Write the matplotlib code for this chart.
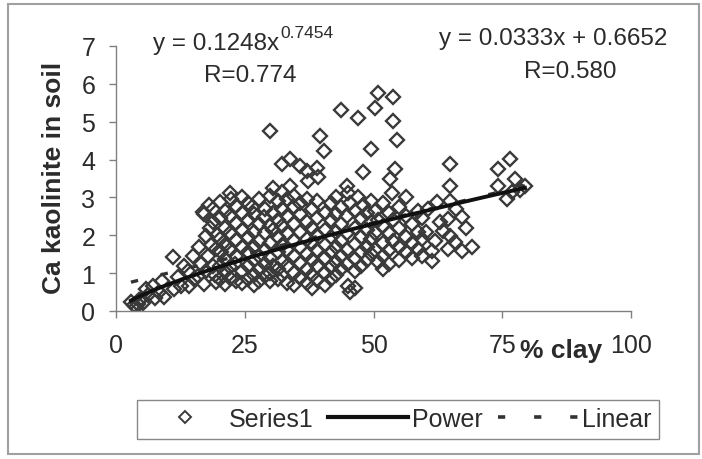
import matplotlib
matplotlib.use('Agg')
import matplotlib.pyplot as plt
from matplotlib.lines import Line2D
from matplotlib.patches import Rectangle
import numpy as np

plt.rcParams['font.family'] = ['Liberation Sans', 'DejaVu Sans']

# ---- data: (% clay, Ca kaolinite in soil) ----
band_00_10 = [(2.9, 0.23), (3.5, 0.15), (3.9, 0.10), (4.2, 0.18), (4.5, 0.30), (4.9, 0.32),
              (5.3, 0.22), (5.8, 0.58), (6.3, 0.42), (7.1, 0.67), (7.6, 0.35), (8.4, 0.49),
              (9.0, 0.80), (9.4, 0.36)]
band_10_20 = [(11.0, 1.42), (11.3, 0.58), (12.0, 0.90), (12.6, 0.65), (13.2, 1.20), (13.9, 1.06),
              (14.2, 0.67), (14.9, 1.46), (15.2, 0.85), (15.9, 0.93), (16.2, 1.68), (16.5, 1.25),
              (17.1, 0.71), (17.1, 2.56), (17.5, 1.99), (17.8, 1.45), (17.4, 1.05), (18.2, 2.20),
              (18.8, 2.34), (18.8, 2.69), (18.5, 1.75), (18.9, 1.20), (19.4, 0.76), (19.4, 1.64),
              (19.6, 2.00), (19.2, 0.95), (16.8, 2.62), (18.0, 2.80)]
band_20_30 = [(20.1, 2.87), (20.1, 2.45), (20.1, 1.90), (20.1, 1.20), (20.1, 0.85), (20.3, 1.55),
              (21.2, 2.65), (21.2, 2.20), (21.2, 1.75), (21.2, 1.38), (21.2, 1.02), (21.2, 0.72),
              (22.1, 3.13), (22.3, 2.95), (22.1, 2.50), (22.1, 2.05), (22.1, 1.60), (22.1, 1.15),
              (22.1, 0.88), (23.3, 2.78), (23.3, 2.32), (23.3, 1.88), (23.3, 1.45), (23.1, 1.25),
              (23.3, 0.78), (24.4, 3.00), (24.4, 2.60), (24.4, 2.15), (24.4, 1.70), (24.4, 1.05),
              (24.4, 0.75), (25.6, 2.85), (25.6, 2.40), (25.6, 1.95), (25.6, 1.55), (25.6, 1.20),
              (25.6, 0.85), (26.7, 2.55), (26.5, 2.75), (26.7, 2.10), (26.7, 1.68), (26.7, 1.35),
              (26.7, 0.95), (26.7, 0.70), (27.8, 2.95), (27.8, 2.30), (27.8, 1.85), (27.8, 1.45),
              (27.8, 1.10), (27.8, 0.80), (28.9, 2.70), (28.7, 2.48), (28.9, 2.05), (28.9, 1.62),
              (28.9, 1.25), (28.9, 0.92), (29.9, 4.76), (29.9, 3.05), (29.9, 2.25), (29.9, 1.80),
              (29.9, 1.40), (29.9, 1.00), (29.9, 0.78)]
band_30_40 = [(30.5, 3.26), (30.5, 2.60), (30.5, 2.15), (30.5, 1.20), (31.4, 2.90), (31.4, 2.40),
              (31.4, 1.95), (31.4, 1.55), (31.4, 1.10), (31.4, 0.85), (32.2, 3.88), (32.2, 3.15),
              (32.2, 2.70), (32.2, 2.25), (32.2, 1.75), (32.2, 1.32), (32.2, 0.95), (33.3, 2.95),
              (33.3, 2.50), (33.3, 2.05), (33.3, 1.60), (33.3, 1.20), (33.3, 0.75), (33.8, 4.01),
              (33.8, 3.31), (34.5, 3.05), (34.5, 2.75), (34.5, 2.30), (34.5, 1.85), (34.5, 1.45),
              (34.5, 1.00), (34.5, 0.68), (35.7, 3.83), (35.7, 2.85), (35.7, 2.55), (35.7, 2.10),
              (35.7, 1.70), (35.7, 1.28), (35.7, 0.88), (37.0, 3.70), (37.3, 3.44), (37.0, 2.95),
              (37.0, 2.35), (37.0, 1.90), (37.0, 1.50), (37.0, 1.10), (37.0, 0.75), (38.1, 2.70),
              (38.1, 2.20), (38.1, 1.80), (38.1, 1.35), (38.1, 0.95), (38.1, 0.60), (39.0, 3.79),
              (39.3, 3.53), (39.0, 2.90), (39.0, 2.45), (39.0, 2.00), (39.0, 1.62), (39.0, 1.20),
              (39.0, 0.82), (39.6, 4.63), (40.3, 4.23)]
band_40_50 = [(40.6, 2.60), (40.6, 2.15), (40.6, 1.75), (40.6, 1.40), (40.6, 1.00), (40.6, 0.70),
              (41.7, 2.85), (41.7, 2.40), (41.7, 1.95), (41.7, 1.55), (41.7, 1.15), (41.7, 0.85),
              (42.8, 3.00), (42.8, 2.55), (42.8, 2.10), (42.8, 1.70), (42.8, 1.30), (42.8, 0.95),
              (43.7, 5.31), (43.7, 2.75), (43.7, 2.30), (43.7, 1.85), (43.7, 1.45), (43.7, 1.10),
              (44.8, 3.31), (45.1, 3.13), (44.8, 2.50), (44.8, 2.05), (44.8, 1.60), (44.8, 1.25),
              (45.1, 0.67), (45.4, 0.49), (45.4, 2.85), (46.4, 0.62), (46.4, 2.65), (46.4, 2.20),
              (46.4, 1.78), (46.4, 1.38), (46.4, 1.05), (47.0, 5.11), (47.0, 3.00), (47.6, 2.45),
              (47.6, 1.95), (47.6, 1.55), (47.6, 1.20), (48.0, 3.66), (48.0, 2.80), (48.8, 2.60),
              (48.8, 2.15), (48.8, 1.70), (48.8, 1.35), (49.6, 4.27), (49.6, 2.90), (49.6, 2.35),
              (49.6, 1.90), (49.6, 1.50)]
band_50_60 = [(50.3, 5.35), (50.3, 2.65), (50.3, 2.05), (50.3, 1.62), (50.9, 5.75), (50.9, 2.40),
              (50.9, 1.30), (51.9, 2.85), (51.9, 2.25), (51.9, 1.80), (51.9, 1.11), (51.9, 1.45),
              (53.0, 2.60), (53.0, 2.05), (53.0, 1.60), (53.0, 1.25), (53.5, 3.13), (53.2, 3.48),
              (53.8, 5.64), (53.8, 5.02), (53.8, 2.40), (53.8, 1.85), (54.2, 3.75), (54.5, 4.51),
              (55.0, 2.75), (55.0, 2.20), (55.0, 1.70), (55.0, 1.35), (56.4, 3.00), (56.4, 2.50),
              (56.4, 1.95), (56.4, 1.55), (57.5, 2.30), (57.5, 1.80), (57.5, 1.40), (58.6, 2.65),
              (58.6, 2.10), (58.6, 1.65), (59.5, 2.45), (59.5, 1.90), (59.5, 1.45)]
band_60_80 = [(60.2, 2.10), (60.5, 2.70), (61.3, 1.59), (61.3, 1.33), (62.0, 1.85), (62.3, 2.87),
              (62.9, 2.34), (63.5, 2.12), (64.5, 2.43), (64.5, 1.64), (64.9, 2.91), (64.9, 1.99),
              (64.9, 3.88), (64.9, 3.31), (65.8, 1.81), (66.0, 2.70), (67.1, 2.47), (67.1, 1.59),
              (68.0, 2.20), (69.1, 1.68), (74.2, 3.75), (74.2, 3.31), (75.9, 2.96), (76.5, 4.01),
              (76.8, 3.15), (77.5, 3.48), (78.5, 3.20), (79.4, 3.31)]

power_coef, power_exp = 0.1248, 0.7454
linear_slope, linear_icpt = 0.0333, 0.6652
x_ticks = [0, 25, 50, 75, 100]
y_ticks = [0, 1, 2, 3, 4, 5, 6, 7]

points = band_00_10 + band_10_20 + band_20_30 + band_30_40 + band_40_50 + band_50_60 + band_60_80
clay = np.array([p[0] for p in points])
ca = np.array([p[1] for p in points])

W, H = 702, 460
def fx(px):
    return px / W
def fy(py):
    return 1 - py / H

TXT = '#2b2b2b'
fig = plt.figure(figsize=(W / 100, H / 100), dpi=100)
ax = fig.add_axes([fx(116), fy(312), (631 - 116) / W, (312 - 47) / H])
ax.set_xlim(0, 100)
ax.set_ylim(0, 7)

ax.plot(clay, ca, ls='none', marker='D', ms=7.6, mfc='none', mec='#3a3a3a', mew=1.7, zorder=2)

xs = np.linspace(clay.min(), clay.max(), 200)
ax.plot(xs, linear_slope * xs + linear_icpt, color='#333333', lw=2.4,
        dashes=(2.2, 7), zorder=3)
ax.plot(xs, power_coef * xs ** power_exp, color='#111111', lw=2.8, zorder=4)

for s in ['top', 'right']:
    ax.spines[s].set_visible(False)
for s in ['left', 'bottom']:
    ax.spines[s].set_color('#808080')
    ax.spines[s].set_linewidth(1.0)
ax.set_xticks(x_ticks)
ax.set_yticks(y_ticks)
ax.tick_params(axis='both', colors='#808080', labelcolor=TXT, labelsize=18, length=5, width=1)
ax.tick_params(axis='x', pad=11)
ax.tick_params(axis='y', pad=10)

fig.text(fx(561), fy(358), '% clay', ha='center', va='baseline', fontsize=19,
         fontweight='bold', color=TXT)
fig.text(fx(54), fy(178), 'Ca kaolinite in soil', ha='center', va='center', fontsize=19,
         fontweight='bold', color=TXT, rotation=90)

t1 = fig.text(fx(153), fy(44), 'y = 0.1248x', ha='left', va='center', fontsize=17.5, color=TXT)
fig.text(fx(250), fy(76), 'R=0.774', ha='center', va='center', fontsize=17.5, color=TXT)
fig.text(fx(553), fy(39), 'y = 0.0333x + 0.6652', ha='center', va='center', fontsize=17.5,
         color=TXT)
fig.text(fx(570), fy(72), 'R=0.580', ha='center', va='center', fontsize=17.5, color=TXT)
fig.canvas.draw()
bb = t1.get_window_extent()
fig.text((bb.x1 + 1) / W, fy(34), '0.7454', ha='left', va='center', fontsize=12.5, color=TXT)

h_pts = Line2D([], [], ls='none', marker='D', ms=6, mfc='none', mec='#3a3a3a', mew=1.4)
h_pow = Line2D([], [], color='#111111', lw=3)
h_lin = Line2D([], [], color='#333333', lw=2.6, dashes=(2, 8))
leg = fig.legend([h_pts, h_pow, h_lin], ['Series1', 'Power', 'Linear'], loc='center',
                 bbox_to_anchor=(fx(398), fy(420)), ncol=3, fontsize=18, frameon=True,
                 fancybox=False, handlelength=3.2, handletextpad=0.15, columnspacing=0.6,
                 borderpad=0.3, borderaxespad=0)
leg.get_frame().set_edgecolor('#6a6a6a')
leg.get_frame().set_linewidth(1.0)
for t in leg.get_texts():
    t.set_color(TXT)

fig.patches.append(Rectangle((fx(8), fy(455)), (699 - 8) / W, (455 - 5) / H,
                             transform=fig.transFigure, fill=False, edgecolor='#a0a0a0', lw=1.5))

fig.savefig('out.png', dpi=100)
